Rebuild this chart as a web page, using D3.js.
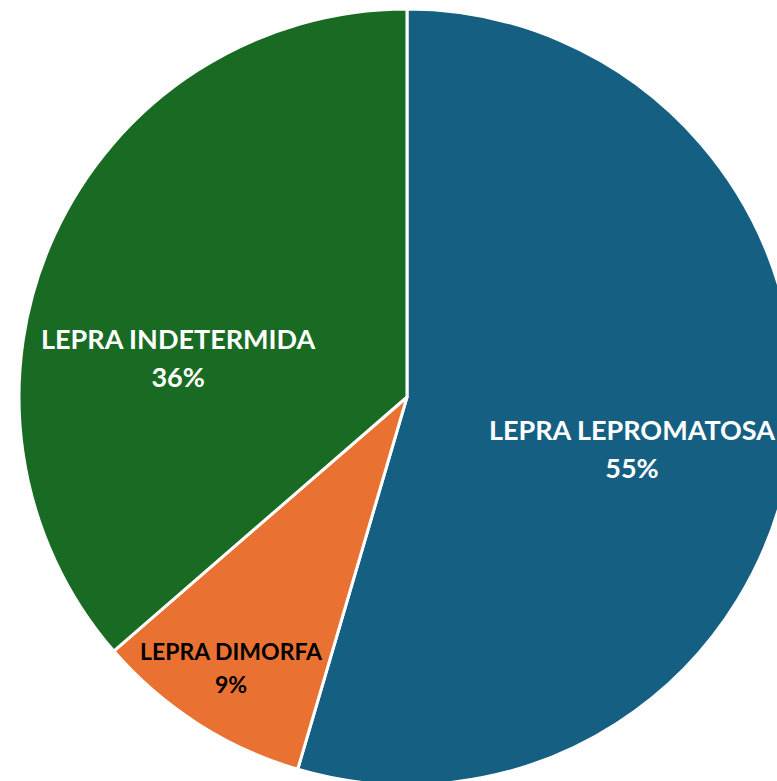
<!DOCTYPE html>
<html><head><meta charset="utf-8">
<script src="https://cdn.jsdelivr.net/npm/d3@7"></script>
<style>html,body{margin:0;padding:0;background:#fff;overflow:hidden}</style>
</head><body>
<svg id="c" width="777" height="781"></svg>
<script>
const categories = ["LEPRA LEPROMATOSA", "LEPRA DIMORFA", "LEPRA INDETERMIDA"];
const values = [6, 1, 4];
const percentLabels = ["55%", "9%", "36%"];
const colors = ["#156082", "#E97132", "#196B24"];
const textColors = ["#ffffff", "#000000", "#ffffff"];

const svg = d3.select("#c");
const cx = 407, cy = 397, R = 388;
const g = svg.append("g").attr("transform", `translate(${cx},${cy})`);
const pie = d3.pie().sort(null).value(d => d)(values);
const arc = d3.arc().innerRadius(0).outerRadius(R);
g.selectAll("path").data(pie).enter().append("path")
  .attr("d", arc).attr("fill", (d, i) => colors[i])
  .attr("stroke", "#fff").attr("stroke-width", 3).attr("stroke-linejoin", "round");

// label placement (layout, not data)
const labelPos = [
  {r: 0.593, da: 0.068, fs: 27},
  {r: 0.826, da: 0.01, fs: 23},
  {r: 0.600, da: -0.244, fs: 27}
];
pie.forEach((d, i) => {
  const lp = labelPos[i];
  const a = (d.startAngle + d.endAngle) / 2 + lp.da;
  const x = Math.sin(a) * R * lp.r, y = -Math.cos(a) * R * lp.r;
  const t = g.append("text").attr("x", x).attr("y", y)
    .attr("text-anchor", "middle").attr("fill", textColors[i])
    .style("font-family", "Lato, 'Open Sans', sans-serif").style("font-weight", "bold")
    .style("font-size", lp.fs + "px");
  t.append("tspan").attr("x", x).attr("dy", "-0.2em").text(categories[i]);
  t.append("tspan").attr("x", x).attr("dy", "1.42em").text(percentLabels[i]);
});
</script>
</body></html>
